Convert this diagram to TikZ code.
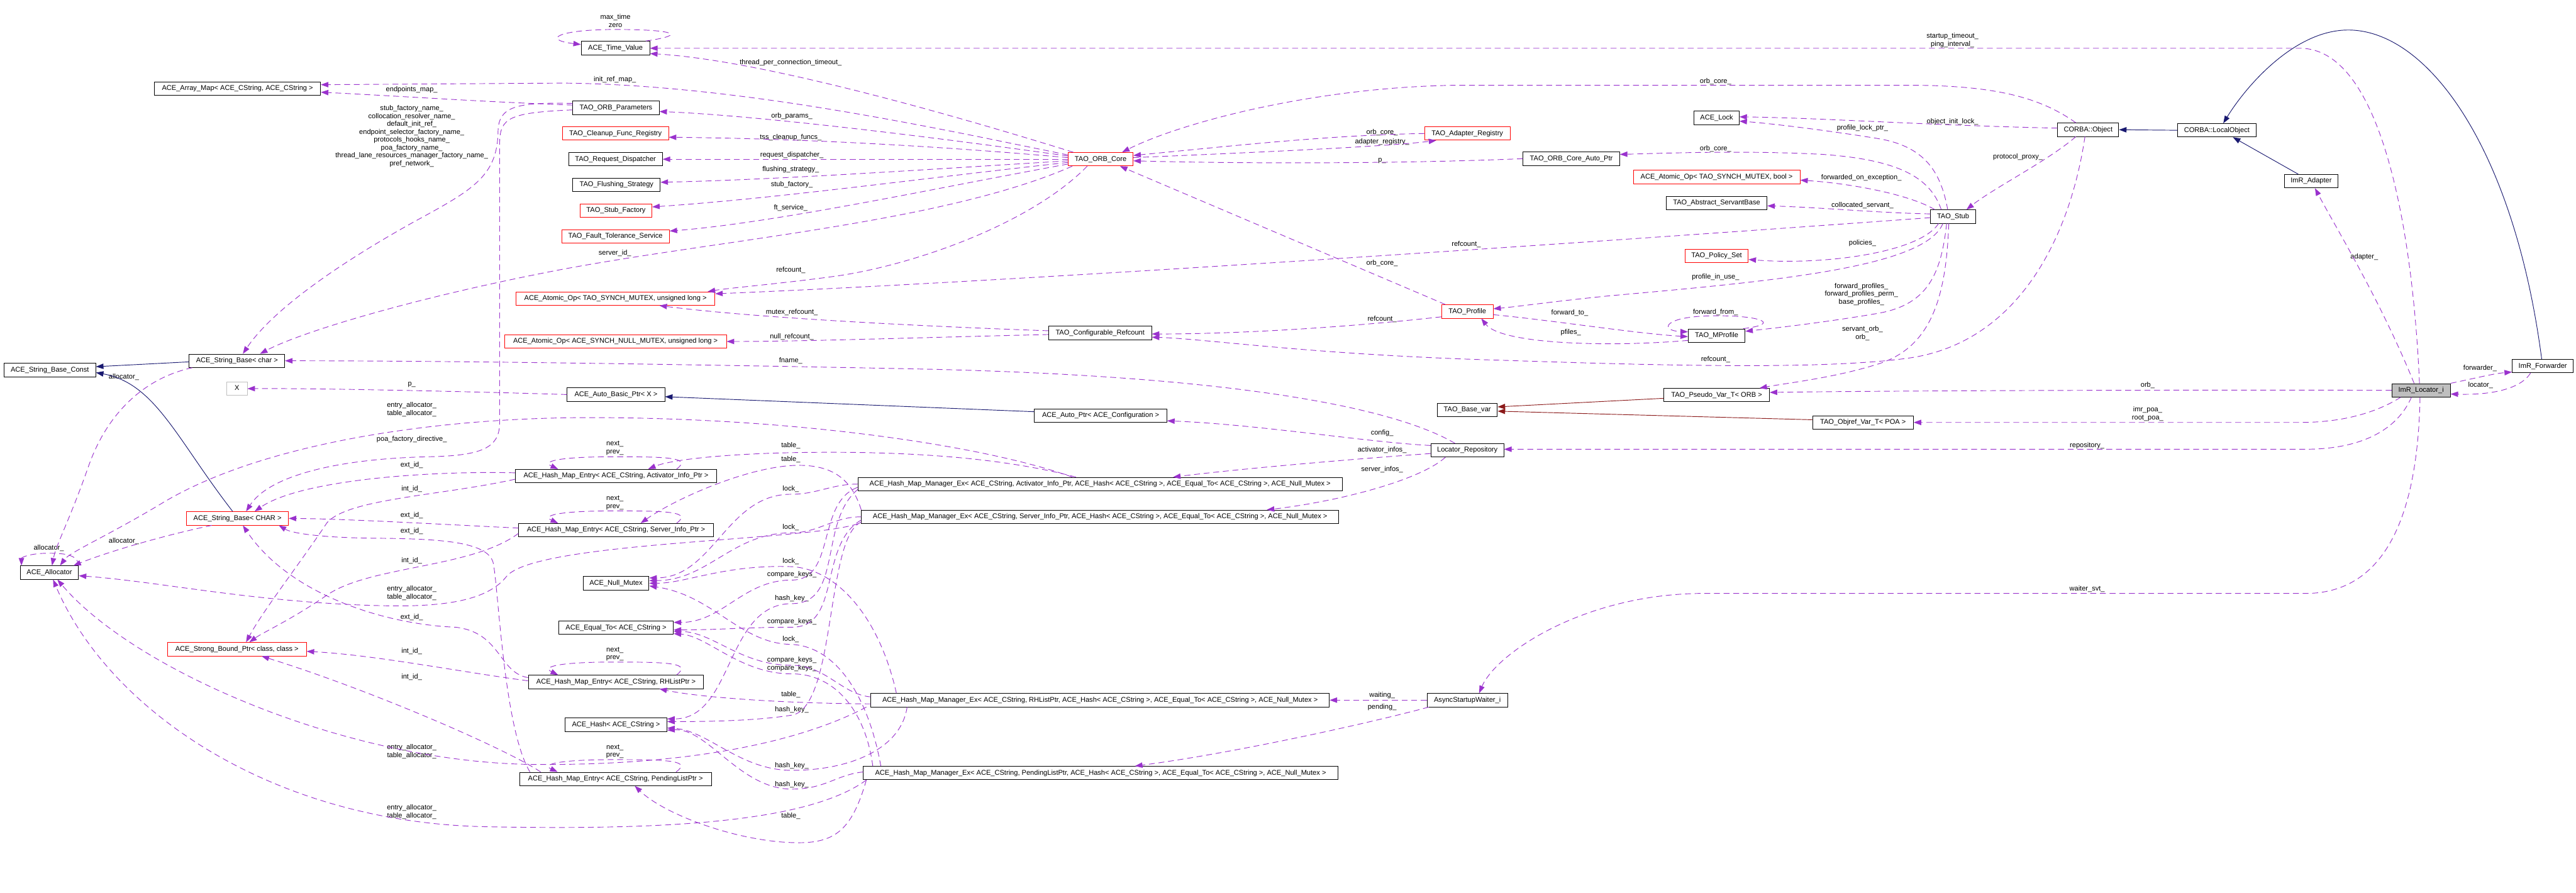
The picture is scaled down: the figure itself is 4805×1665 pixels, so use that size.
\documentclass[tikz,border=0pt]{standalone}
\usepackage{fontspec}
\setmainfont{Liberation Sans}
\usetikzlibrary{arrows.meta}
\definecolor{ep}{HTML}{9A32CD}
\definecolor{nv}{HTML}{191970}
\definecolor{tr}{HTML}{8B1A1A}
\definecolor{gb}{HTML}{BFBFBF}
\tikzset{
 cls/.style={draw=black, line width=1pt, fill=white, font=\fontsize{13}{15}\selectfont, inner sep=0pt, minimum height=25pt, text height=9.5pt, text depth=2.8pt},
 redc/.style={cls, draw=red},
 usee/.style={draw=ep, line width=1.1pt, dash pattern=on 11pt off 7pt, -{Triangle[length=14pt,width=10pt]}},
 inh/.style={draw=nv, line width=1.1pt, -{Triangle[length=14pt,width=10pt]}},
 tmpl/.style={draw=tr, line width=1.1pt, -{Triangle[length=14pt,width=10pt]}},
 lbl/.style={font=\fontsize{13}{15}\selectfont, inner sep=0pt, align=center},
}
\begin{document}
\begin{tikzpicture}[x=1pt,y=-1pt]
\useasboundingbox (0,0) rectangle (4805,1665);
% ---------------- nodes ----------------
\node[cls,minimum width=310pt] (amap) at (443,165) {ACE\_Array\_Map< ACE\_CString, ACE\_CString >};
\node[cls,minimum width=178pt] (sbchar) at (442,673) {ACE\_String\_Base< char >};
\node[cls,minimum width=171pt,minimum height=26pt] (sbc) at (93,690) {ACE\_String\_Base\_Const};
\node[cls,draw=gb,minimum width=38pt] (X) at (442,725) {X};
\node[redc,minimum width=190pt] (sbCHAR) at (443,967) {ACE\_String\_Base< CHAR >};
\node[cls,minimum width=109pt] (alloc) at (92,1068) {ACE\_Allocator};
\node[redc,minimum width=259pt] (sbp) at (442,1211) {ACE\_Strong\_Bound\_Ptr< class, class >};
\node[cls,minimum width=128pt,minimum height=26pt] (tv) at (1148,90) {ACE\_Time\_Value};
\node[cls,minimum width=161pt] (orbp) at (1149,201) {TAO\_ORB\_Parameters};
\node[redc,minimum width=198pt] (cfr) at (1148,249) {TAO\_Cleanup\_Func\_Registry};
\node[cls,minimum width=175pt] (rd) at (1148,297) {TAO\_Request\_Dispatcher};
\node[cls,minimum width=163pt] (fs) at (1150,345) {TAO\_Flushing\_Strategy};
\node[redc,minimum width=134pt] (sf) at (1149,393) {TAO\_Stub\_Factory};
\node[redc,minimum width=201pt] (fts) at (1148,441) {TAO\_Fault\_Tolerance\_Service};
\node[redc,minimum width=371pt] (aomul) at (1148,557) {ACE\_Atomic\_Op< TAO\_SYNCH\_MUTEX, unsigned long >};
\node[redc,minimum width=414pt] (aonull) at (1148,637) {ACE\_Atomic\_Op< ACE\_SYNCH\_NULL\_MUTEX, unsigned long >};
\node[cls,minimum width=182pt] (abp) at (1149,736) {ACE\_Auto\_Basic\_Ptr< X >};
\node[cls,minimum width=376pt] (eact) at (1149,888) {ACE\_Hash\_Map\_Entry< ACE\_CString, Activator\_Info\_Ptr >};
\node[cls,minimum width=363pt] (esrv) at (1149,989) {ACE\_Hash\_Map\_Entry< ACE\_CString, Server\_Info\_Ptr >};
\node[cls,minimum width=123pt] (nm) at (1149,1088) {ACE\_Null\_Mutex};
\node[cls,minimum width=214pt] (eq) at (1149,1171) {ACE\_Equal\_To< ACE\_CString >};
\node[cls,minimum width=327pt] (erh) at (1149,1272) {ACE\_Hash\_Map\_Entry< ACE\_CString, RHListPtr >};
\node[cls,minimum width=190pt] (hs) at (1149,1352) {ACE\_Hash< ACE\_CString >};
\node[cls,minimum width=358pt] (epl) at (1148,1453) {ACE\_Hash\_Map\_Entry< ACE\_CString, PendingListPtr >};
\node[redc,minimum width=121pt] (core) at (2053,297) {TAO\_ORB\_Core};
\node[cls,minimum width=192pt] (cref) at (2052,621) {TAO\_Configurable\_Refcount};
\node[cls,minimum width=247pt] (aptr) at (2053,775) {ACE\_Auto\_Ptr< ACE\_Configuration >};
\node[cls,minimum width=903pt] (mact) at (2052,903) {ACE\_Hash\_Map\_Manager\_Ex< ACE\_CString, Activator\_Info\_Ptr, ACE\_Hash< ACE\_CString >, ACE\_Equal\_To< ACE\_CString >, ACE\_Null\_Mutex >};
\node[cls,minimum width=890pt] (msrv) at (2052,964) {ACE\_Hash\_Map\_Manager\_Ex< ACE\_CString, Server\_Info\_Ptr, ACE\_Hash< ACE\_CString >, ACE\_Equal\_To< ACE\_CString >, ACE\_Null\_Mutex >};
\node[cls,minimum width=855pt] (mrh) at (2052,1306) {ACE\_Hash\_Map\_Manager\_Ex< ACE\_CString, RHListPtr, ACE\_Hash< ACE\_CString >, ACE\_Equal\_To< ACE\_CString >, ACE\_Null\_Mutex >};
\node[cls,minimum width=885pt] (mpl) at (2053,1442) {ACE\_Hash\_Map\_Manager\_Ex< ACE\_CString, PendingListPtr, ACE\_Hash< ACE\_CString >, ACE\_Equal\_To< ACE\_CString >, ACE\_Null\_Mutex >};
\node[redc,minimum width=159pt] (areg) at (2737,249) {TAO\_Adapter\_Registry};
\node[redc,minimum width=96pt] (prof) at (2737,581) {TAO\_Profile};
\node[cls,minimum width=112pt] (bvar) at (2737,765) {TAO\_Base\_var};
\node[cls,minimum width=136pt] (lrep) at (2737,840) {Locator\_Repository};
\node[cls,minimum width=150pt] (asw) at (2737,1306) {AsyncStartupWaiter\_i};
\node[cls,minimum width=180pt] (coreap) at (2931,296) {TAO\_ORB\_Core\_Auto\_Ptr};
\node[cls,minimum width=84pt] (lock) at (3202,220) {ACE\_Lock};
\node[redc,minimum width=311pt] (aobool) at (3202,330) {ACE\_Atomic\_Op< TAO\_SYNCH\_MUTEX, bool >};
\node[cls,minimum width=188pt] (asb) at (3202,379) {TAO\_Abstract\_ServantBase};
\node[redc,minimum width=118pt] (ps) at (3202,477) {TAO\_Policy\_Set};
\node[cls,minimum width=106pt] (mprof) at (3202,626) {TAO\_MProfile};
\node[cls,minimum width=197pt] (pvar) at (3202,737) {TAO\_Pseudo\_Var\_T< ORB >};
\node[cls,minimum width=188pt] (ovar) at (3475,788) {TAO\_Objref\_Var\_T< POA >};
\node[cls,minimum width=84pt] (stub) at (3643,404) {TAO\_Stub};
\node[cls,minimum width=114pt] (cobj) at (3895,242) {CORBA::Object};
\node[cls,minimum width=146pt] (lobj) at (4135,243) {CORBA::LocalObject};
\node[cls,minimum width=100pt] (adp) at (4311,338) {ImR\_Adapter};
\node[cls,fill=gb,minimum width=109pt] (loc) at (4516,728) {ImR\_Locator\_i};
\node[cls,minimum width=114pt] (fwd) at (4743,683) {ImR\_Forwarder};
% ---------------- labels ----------------
\node[lbl] (l1) at (1148,39) {max\_time\\zero};
\node[lbl] (l2) at (3642,75) {startup\_timeout\_\\ping\_interval\_};
\node[lbl] (l3) at (1475,117) {thread\_per\_connection\_timeout\_};
\node[lbl] (l4) at (1147,148) {init\_ref\_map\_};
\node[lbl] (l5) at (768,167) {endpoints\_map\_};
\node[lbl,font=\fontsize{13}{14.7}\selectfont] (l6) at (768,254) {stub\_factory\_name\_\\collocation\_resolver\_name\_\\default\_init\_ref\_\\endpoint\_selector\_factory\_name\_\\protocols\_hooks\_name\_\\poa\_factory\_name\_\\thread\_lane\_resources\_manager\_factory\_name\_\\pref\_network\_};
\node[lbl] (l7) at (1477,217) {orb\_params\_};
\node[lbl] (l8) at (1475,256) {tss\_cleanup\_funcs\_};
\node[lbl] (l9) at (1477,289) {request\_dispatcher\_};
\node[lbl] (l10) at (1475,316) {flushing\_strategy\_};
\node[lbl] (l11) at (1477,345) {stub\_factory\_};
\node[lbl] (l12) at (1475,388) {ft\_service\_};
\node[lbl] (l13) at (1147,472) {server\_id\_};
\node[lbl] (l14) at (1475,504) {refcount\_};
\node[lbl] (l15) at (1477,583) {mutex\_refcount\_};
\node[lbl] (l16) at (1477,628) {null\_refcount\_};
\node[lbl] (l17) at (1475,673) {fname\_};
\node[lbl] (l18) at (768,718) {p\_};
\node[lbl] (l19) at (768,764) {entry\_allocator\_\\table\_allocator\_};
\node[lbl] (l20) at (768,819) {poa\_factory\_directive\_};
\node[lbl] (l21) at (768,868) {ext\_id\_};
\node[lbl] (l22) at (768,912) {int\_id\_};
\node[lbl] (l23) at (768,961) {ext\_id\_};
\node[lbl] (l24) at (768,991) {ext\_id\_};
\node[lbl] (l25) at (768,1046) {int\_id\_};
\node[lbl] (l26) at (231,703) {allocator\_};
\node[lbl] (l27) at (231,1010) {allocator\_};
\node[lbl] (l28) at (91,1023) {allocator\_};
\node[lbl] (l29) at (768,1106) {entry\_allocator\_\\table\_allocator\_};
\node[lbl] (l30) at (768,1151) {ext\_id\_};
\node[lbl] (l31) at (768,1215) {int\_id\_};
\node[lbl] (l32) at (768,1263) {int\_id\_};
\node[lbl] (l33) at (768,1402) {entry\_allocator\_\\table\_allocator\_};
\node[lbl] (l34) at (768,1515) {entry\_allocator\_\\table\_allocator\_};
\node[lbl] (l35) at (1147,836) {next\_\\prev\_};
\node[lbl] (l36) at (1147,938) {next\_\\prev\_};
\node[lbl] (l37) at (1147,1220) {next\_\\prev\_};
\node[lbl] (l38) at (1147,1402) {next\_\\prev\_};
\node[lbl] (l39) at (1475,831) {table\_};
\node[lbl] (l40) at (1475,857) {table\_};
\node[lbl] (l41) at (1475,1296) {table\_};
\node[lbl] (l42) at (1475,1522) {table\_};
\node[lbl] (l43) at (1475,912) {lock\_};
\node[lbl] (l44) at (1475,984) {lock\_};
\node[lbl] (l45) at (1475,1047) {lock\_};
\node[lbl] (l46) at (1475,1192) {lock\_};
\node[lbl] (l47) at (1477,1072) {compare\_keys\_};
\node[lbl] (l48) at (1477,1160) {compare\_keys\_};
\node[lbl] (l49) at (1477,1231) {compare\_keys\_};
\node[lbl] (l50) at (1477,1247) {compare\_keys\_};
\node[lbl] (l51) at (1477,1116) {hash\_key\_};
\node[lbl] (l52) at (1477,1324) {hash\_key\_};
\node[lbl] (l53) at (1477,1428) {hash\_key\_};
\node[lbl] (l54) at (1477,1463) {hash\_key\_};
\node[lbl] (l55) at (2578,247) {orb\_core\_};
\node[lbl] (l56) at (2578,265) {adapter\_registry\_};
\node[lbl] (l57) at (2578,300) {p\_};
\node[lbl] (l58) at (2735,456) {refcount\_};
\node[lbl] (l59) at (2578,491) {orb\_core\_};
\node[lbl] (l60) at (2578,595) {refcount\_};
\node[lbl] (l61) at (2928,584) {forward\_to\_};
\node[lbl] (l62) at (2930,620) {pfiles\_};
\node[lbl] (l63) at (2578,808) {config\_};
\node[lbl] (l64) at (2578,840) {activator\_infos\_};
\node[lbl] (l65) at (2578,876) {server\_infos\_};
\node[lbl] (l66) at (2578,1297) {waiting\_};
\node[lbl] (l67) at (2578,1319) {pending\_};
\node[lbl] (l68) at (3200,152) {orb\_core\_};
\node[lbl] (l69) at (3642,227) {object\_init\_lock\_};
\node[lbl] (l70) at (3474,239) {profile\_lock\_ptr\_};
\node[lbl] (l71) at (3200,277) {orb\_core\_};
\node[lbl] (l72) at (3764,293) {protocol\_proxy\_};
\node[lbl] (l73) at (3472,331) {forwarded\_on\_exception\_};
\node[lbl] (l74) at (3474,383) {collocated\_servant\_};
\node[lbl] (l75) at (3474,453) {policies\_};
\node[lbl] (l76) at (3200,517) {profile\_in\_use\_};
\node[lbl] (l77) at (3472,549) {forward\_profiles\_\\forward\_profiles\_perm\_\\base\_profiles\_};
\node[lbl] (l78) at (3200,583) {forward\_from\_};
\node[lbl] (l79) at (3474,622) {servant\_orb\_\\orb\_};
\node[lbl] (l80) at (3200,671) {refcount\_};
\node[lbl] (l81) at (4410,479) {adapter\_};
\node[lbl] (l82) at (4626,687) {forwarder\_};
\node[lbl] (l83) at (4627,719) {locator\_};
\node[lbl] (l84) at (4006,719) {orb\_};
\node[lbl] (l85) at (4006,772) {imr\_poa\_\\root\_poa\_};
\node[lbl] (l86) at (3893,831) {repository\_};
\node[lbl] (l87) at (3893,1099) {waiter\_svt\_};
% ---------------- inheritance / template ----------------
\draw[inh] (lobj.west) -- (cobj.east);
\draw[inh] ([xshift=-24pt]adp.north) -- ([xshift=30pt]lobj.south);
\draw[inh] ([xshift=-2pt]fwd.north) .. controls (4690,280) and (4530,56) .. (4380,56) .. controls (4280,56) and (4190,160) .. ([xshift=12pt]lobj.north);
\draw[inh] ([yshift=-2pt]sbchar.west) -- ([yshift=6pt]sbc.east);
\draw[inh] ([xshift=-9pt]sbCHAR.north) .. controls (330,820) and (290,715) .. ([yshift=-5pt]sbc.east);
\draw[inh] ([yshift=7pt]aptr.west) -- ([yshift=-4pt]abp.east);
\draw[tmpl] ([yshift=-6pt]pvar.west) -- ([yshift=6pt]bvar.east);
\draw[tmpl] ([yshift=5pt]ovar.west) -- ([yshift=-2pt]bvar.east);
% ---------------- usage edges ----------------
\draw[usee] ([xshift=-8pt]tv.north east) .. controls (1290,64) and (1250,55) .. (1148,55) .. controls (1040,55) and (1010,74) .. ([yshift=7pt]tv.west);
\draw[usee] ([xshift=-3pt]loc.north) .. controls (4500,420) and (4440,90) .. (4290,90) -- (tv.east);
\draw[usee] ([xshift=10pt]core.north west) .. controls (1780,215) and (1420,112) .. ([yshift=-10pt]tv.east);
\draw[usee] ([yshift=8pt]core.west) .. controls (1750,240) and (1380,158) .. (1050,155) -- ([yshift=7pt]amap.east);
\draw[usee] ([yshift=5pt]orbp.west) .. controls (900,190) and (760,180) .. ([yshift=-7pt]amap.east);
\draw[usee] ([yshift=8pt]orbp.west) .. controls (960,190) and (930,200) .. (929,245) .. controls (928,330) and (880,355) .. (770,415) .. controls (600,510) and (500,590) .. ([xshift=11pt]sbchar.north);
\draw[usee] ([yshift=-4pt]orbp.west) .. controls (950,210) and (933,220) .. (932,265) -- (932,790) .. controls (931,835) and (900,850) .. (800,852) .. controls (620,856) and (500,890) .. ([xshift=16pt]sbCHAR.north);
\draw[usee] ([yshift=6pt]core.west) .. controls (1700,250) and (1400,215) .. ([yshift=-7pt]orbp.east);
\draw[usee] ([yshift=3pt]core.west) .. controls (1700,268) and (1450,258) .. ([yshift=-7pt]cfr.east);
\draw[usee] (core.west) -- (rd.east);
\draw[usee] ([yshift=-3pt]core.west) .. controls (1700,318) and (1450,335) .. ([yshift=5pt]fs.east);
\draw[usee] ([yshift=-6pt]core.west) .. controls (1700,335) and (1450,370) .. ([yshift=7pt]sf.east);
\draw[usee] ([yshift=-9pt]core.west) .. controls (1750,350) and (1450,415) .. ([yshift=10pt]fts.east);
\draw[usee] ([xshift=8pt]core.south west) .. controls (1750,420) and (1300,450) .. (1000,512) .. controls (760,560) and (560,620) .. ([xshift=43pt]sbchar.north);
\draw[usee] ([xshift=-25pt]core.south) .. controls (1920,420) and (1700,495) .. (1560,515) .. controls (1450,530) and (1360,537) .. ([xshift=-14pt]aomul.north east);
\draw[usee] ([yshift=-2pt]stub.west) .. controls (3000,450) and (1900,525) .. ([yshift=9pt]aomul.east);
\draw[usee] ([yshift=4pt]cref.west) .. controls (1700,608) and (1400,592) .. ([xshift=82pt]aomul.south);
\draw[usee] ([yshift=-3pt]cref.west) .. controls (1700,630) and (1500,637) .. (aonull.east);
\draw[usee] ([xshift=-23pt]lrep.north) .. controls (2600,760) and (2300,700) .. (1700,688) .. controls (1200,678) and (800,673) .. (sbchar.east);
\draw[usee] ([yshift=3pt]core.east) .. controls (2400,282) and (2600,272) .. ([xshift=-58pt]areg.south);
\draw[usee] (areg.west) .. controls (2480,252) and (2300,272) .. ([yshift=7pt]core.east);
\draw[usee] (coreap.west) .. controls (2600,306) and (2300,305) .. ([yshift=-3pt]core.east);
\draw[usee] ([xshift=-23pt]cobj.north) .. controls (3810,185) and (3730,159) .. (3560,159) -- (2720,159) .. controls (2450,162) and (2200,230) .. ([xshift=40pt]core.north);
\draw[usee] ([xshift=-41pt]prof.north) -- ([xshift=36pt]core.south);
\draw[usee] ([yshift=-10pt]prof.west) .. controls (2500,612) and (2300,623) .. ([yshift=-2pt]cref.east);
\draw[usee] ([xshift=-6pt]cobj.south) .. controls (3860,450) and (3760,640) .. (3560,668) .. controls (3400,690) and (3100,682) .. (2800,672) .. controls (2450,662) and (2250,632) .. ([yshift=-8pt]cref.east);
\draw[usee] ([xshift=-8pt]stub.south) .. controls (3630,560) and (3600,650) .. (3500,680) .. controls (3420,705) and (3330,715) .. ([xshift=80pt]pvar.north);
\draw[usee] (loc.west) .. controls (4000,727) and (3500,729) .. ([yshift=5pt]pvar.east);
\draw[usee] ([xshift=-38pt]loc.south) .. controls (4440,765) and (4380,788) .. (4290,788) -- (ovar.east);
\draw[usee] ([xshift=-18pt]loc.south) .. controls (4470,805) and (4400,838) .. (4300,838) -- ([yshift=2pt]lrep.east);
\draw[usee] ([xshift=-2pt]loc.south) .. controls (4510,960) and (4450,1107) .. (4300,1107) -- (3170,1107) .. controls (2950,1110) and (2790,1220) .. ([xshift=22pt]asw.north);
\draw[usee] ([xshift=-13pt]loc.north) .. controls (4440,560) and (4360,430) .. ([xshift=7pt]adp.south);
\draw[usee] (loc.north east) .. controls (4620,705) and (4650,697) .. ([yshift=-11pt]fwd.west);
\draw[usee] ([xshift=-23pt]fwd.south) .. controls (4700,728) and (4640,737) .. ([yshift=-7pt]loc.east);
\draw[usee] ([xshift=-23pt]cobj.south) .. controls (3820,300) and (3720,350) .. ([xshift=25pt]stub.north);
\draw[usee] ([yshift=3pt]cobj.west) .. controls (3600,234) and (3400,220) .. ([yshift=2pt]lock.east);
\draw[usee] ([xshift=-10pt]stub.north) .. controls (3620,320) and (3590,272) .. (3500,258) .. controls (3400,242) and (3300,230) .. ([yshift=-6pt]lock.east);
\draw[usee] ([xshift=-22pt]stub.north) .. controls (3600,330) and (3540,298) .. (3400,288) .. controls (3250,280) and (3100,286) .. ([yshift=8pt]coreap.east);
\draw[usee] ([xshift=-34pt]stub.north) .. controls (3560,362) and (3450,342) .. ([yshift=-6pt]aobool.east);
\draw[usee] ([yshift=5pt]stub.west) .. controls (3500,397) and (3400,387) .. ([yshift=-5pt]asb.east);
\draw[usee] ([xshift=-27pt]stub.south) .. controls (3580,472) and (3400,495) .. ([yshift=-7pt]ps.east);
\draw[usee] ([xshift=-19pt]stub.south) .. controls (3590,500) and (3300,525) .. (3000,552) .. controls (2900,562) and (2830,572) .. ([yshift=5pt]prof.east);
\draw[usee] ([xshift=-12pt]stub.south) .. controls (3620,520) and (3590,570) .. (3500,585) .. controls (3400,602) and (3310,612) .. ([yshift=8pt]mprof.east);
\draw[usee] ([xshift=-4pt]mprof.north east) .. controls (3320,605) and (3290,589) .. (3202,589) .. controls (3100,589) and (3095,617) .. ([yshift=7pt]mprof.west);
\draw[usee] ([yshift=-6pt]prof.east) .. controls (2900,598) and (3050,622) .. ([yshift=-2pt]mprof.west);
\draw[usee] ([yshift=-9pt]mprof.west) .. controls (3000,648) and (2800,642) .. ([xshift=26pt]prof.south);
\draw[usee] (abp.west) .. controls (900,731) and (600,724) .. (X.east);
\draw[usee] ([yshift=9pt]lrep.west) .. controls (2550,825) and (2350,792) .. ([yshift=-10pt]aptr.east);
\draw[usee] ([yshift=-6pt]lrep.west) .. controls (2500,858) and (2300,876) .. ([xshift=136pt]mact.north);
\draw[usee] ([xshift=-41pt]lrep.south) .. controls (2650,895) and (2500,935) .. ([xshift=311pt]msrv.north);
\draw[usee] (asw.west) -- (mrh.east);
\draw[usee] ([xshift=-72pt]asw.south) .. controls (2550,1350) and (2300,1405) .. ([xshift=64pt]mpl.north);
% allocator
\draw[usee] ([xshift=6pt]sbchar.south west) .. controls (270,705) and (200,770) .. (165,870) .. controls (130,970) and (105,1015) .. ([xshift=5pt]alloc.north);
\draw[usee] ([xshift=-48pt]sbCHAR.south) .. controls (300,1000) and (200,1030) .. ([xshift=-10pt]alloc.north east);
\draw[usee] (alloc.north east) .. controls (145,1036) and (125,1032) .. (91,1032) .. controls (55,1032) and (40,1040) .. ([xshift=3pt]alloc.north west);
\draw[usee] ([xshift=-52pt]mact.north) .. controls (1850,835) and (1500,779) .. (1100,779) .. controls (800,779) and (480,830) .. (300,940) .. controls (200,1000) and (130,1030) .. ([xshift=20pt]alloc.north);
\draw[usee] ([xshift=-6pt]msrv.south west) .. controls (1500,1010) and (1000,1010) .. (945,1075) .. controls (910,1120) and (830,1132) .. (720,1130) .. controls (480,1125) and (300,1085) .. ([yshift=-6pt]alloc.east);
\draw[usee] ([xshift=-8pt]mrh.south west) .. controls (1500,1380) and (1300,1428) .. (1000,1426) .. controls (650,1424) and (250,1250) .. ([xshift=15pt]alloc.south);
\draw[usee] ([xshift=6pt]mpl.south west) .. controls (1500,1540) and (1200,1548) .. (900,1542) .. controls (500,1532) and (200,1320) .. ([xshift=7pt]alloc.south);
% entries -> string / strong bound ptr
\draw[usee] ([yshift=6pt]eact.west) .. controls (800,878) and (560,895) .. ([xshift=32pt]sbCHAR.north);
\draw[usee] ([yshift=-6pt]eact.west) .. controls (820,925) and (650,930) .. (610,975) .. controls (560,1050) and (490,1140) .. ([xshift=17pt]sbp.north);
\draw[usee] ([yshift=4pt]esrv.west) .. controls (820,978) and (650,968) .. (sbCHAR.east);
\draw[usee] ([yshift=-6pt]esrv.west) .. controls (880,1060) and (690,1055) .. (610,1110) .. controls (545,1155) and (490,1180) .. ([xshift=23pt]sbp.north);
\draw[usee] ([xshift=20pt]epl.north west) .. controls (940,1360) and (930,1100) .. (920,1050) .. controls (910,1010) and (820,1005) .. (700,1004) .. controls (600,1003) and (545,995) .. ([xshift=77pt]sbCHAR.south);
\draw[usee] ([yshift=8pt]erh.west) .. controls (930,1255) and (935,1180) .. (850,1170) .. controls (720,1165) and (540,1110) .. ([xshift=10pt]sbCHAR.south);
\draw[usee] ([yshift=2pt]erh.west) .. controls (850,1252) and (700,1222) .. ([yshift=-4pt]sbp.east);
\draw[usee] ([xshift=40pt]epl.north west) .. controls (950,1400) and (700,1290) .. ([xshift=46pt]sbp.south);
% entry self loops
\draw[usee] ([xshift=113pt]eact.north) .. controls (1290,854) and (1250,852) .. (1147,852) .. controls (1040,852) and (1010,861) .. ([xshift=-108pt]eact.north);
\draw[usee] ([xshift=113pt]esrv.north) .. controls (1290,955) and (1250,953) .. (1147,953) .. controls (1040,953) and (1010,962) .. ([xshift=-108pt]esrv.north);
\draw[usee] ([xshift=113pt]erh.north) .. controls (1290,1237) and (1250,1235) .. (1147,1235) .. controls (1040,1235) and (1010,1244) .. ([xshift=-108pt]erh.north);
\draw[usee] ([xshift=113pt]epl.north) .. controls (1290,1419) and (1250,1417) .. (1147,1417) .. controls (1040,1417) and (1010,1426) .. ([xshift=-108pt]epl.north);
% table_
\draw[usee] ([xshift=-45pt]mact.north) .. controls (1850,848) and (1650,842) .. (1500,844) .. controls (1350,846) and (1250,858) .. ([xshift=60pt]eact.north);
\draw[usee] (msrv.north west) .. controls (1590,900) and (1560,868) .. (1490,868) .. controls (1400,868) and (1260,930) .. ([xshift=46pt]esrv.north);
\draw[usee] ([yshift=-7pt]mrh.west) .. controls (1450,1312) and (1300,1300) .. ([xshift=81pt]erh.south);
\draw[usee] ([xshift=6pt]mpl.south west) .. controls (1590,1545) and (1560,1572) .. (1490,1572) .. controls (1380,1572) and (1240,1520) .. ([xshift=36pt]epl.south);
% lock_
\draw[usee] (mact.west) to[out=180,in=0] (1475,922) to[out=180,in=0] ([yshift=10pt]nm.east);
\draw[usee] (msrv.west) to[out=180,in=0] (1475,994) to[out=180,in=0] ([yshift=5pt]nm.east);
\draw[usee] ([xshift=-380pt]mrh.north) .. controls (1640,1150) and (1560,1060) .. (1475,1057) .. controls (1350,1053) and (1280,1088) .. (nm.east);
\draw[usee] ([xshift=-410pt]mpl.north) .. controls (1620,1300) and (1560,1205) .. (1475,1202) .. controls (1380,1200) and (1330,1110) .. ([yshift=-5pt]nm.east);
% compare_keys_
\draw[usee] ([yshift=-6pt]mact.west) to[out=200,in=0] (1477,1082) to[out=180,in=0] ([yshift=10pt]eq.east);
\draw[usee] ([yshift=-6pt]msrv.west) to[out=210,in=0] (1477,1170) to[out=180,in=0] ([yshift=-4pt]eq.east);
\draw[usee] ([yshift=6pt]mrh.west) .. controls (1570,1295) and (1540,1241) .. (1477,1241) .. controls (1380,1241) and (1330,1178) .. ([yshift=-7pt]eq.east);
\draw[usee] ([xshift=-425pt]mpl.north) .. controls (1615,1330) and (1560,1257) .. (1477,1257) .. controls (1380,1257) and (1320,1186) .. ([yshift=-11pt]eq.east);
% hash_key_
\draw[usee] ([yshift=-10pt]mact.west) to[out=220,in=0] (1477,1126) to[out=180,in=0] ([yshift=11pt]hs.east);
\draw[usee] ([yshift=-10pt]msrv.west) .. controls (1540,1000) and (1560,1320) .. (1477,1334) .. controls (1400,1346) and (1300,1346) .. ([yshift=6pt]hs.east);
\draw[usee] ([xshift=-360pt]mrh.south) .. controls (1680,1400) and (1580,1437) .. (1477,1437) .. controls (1380,1437) and (1320,1362) .. ([yshift=-6pt]hs.east);
\draw[usee] ([yshift=2pt]mpl.west) .. controls (1560,1445) and (1540,1472) .. (1477,1472) .. controls (1380,1472) and (1320,1358) .. ([yshift=-10pt]hs.east);
\end{tikzpicture}
\end{document}
